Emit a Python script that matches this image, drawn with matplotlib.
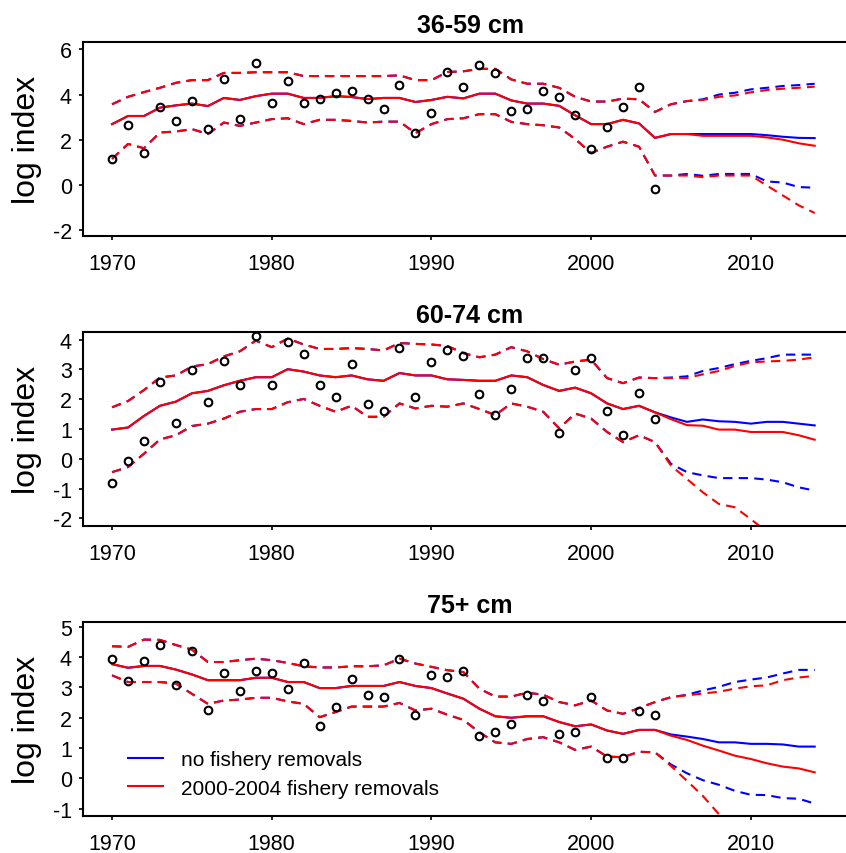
import numpy as np
import matplotlib
matplotlib.use('Agg')
import matplotlib.pyplot as plt

plt.rcParams['font.family'] = ['Liberation Sans', 'DejaVu Sans']
plt.rcParams['axes.unicode_minus'] = False

years_hist = np.arange(1970, 2005)
years_proj = np.arange(2005, 2015)
years_all = np.concatenate([years_hist, years_proj])

titles = ['36-59 cm', '60-74 cm', '75+ cm']
legend_labels = ['no fishery removals', '2000-2004 fishery removals']

# ---- 36-59 cm ----
obs_small = [1.15, 2.66, 1.41, 3.45, 2.83, 3.71, 2.47, 4.68, 2.91, 5.39,
             3.63, 4.58, 3.63, 3.79, 4.07, 4.15, 3.80, 3.36, 4.42, 2.29,
             3.19, 5.02, 4.33, 5.30, 4.95, 3.26, 3.36, 4.15, 3.88, 3.08,
             1.60, 2.55, 3.45, 4.33, -0.18]
mean_small = [2.69, 3.05, 3.05, 3.42, 3.52, 3.60, 3.49, 3.85, 3.76, 3.93,
              4.04, 4.04, 3.85, 3.85, 3.93, 3.89, 3.80, 3.85, 3.85, 3.67,
              3.76, 3.90, 3.83, 4.04, 4.04, 3.74, 3.60, 3.60, 3.50, 3.08,
              2.69, 2.69, 2.88, 2.72, 2.08]
upper_small = [3.57, 3.90, 4.11, 4.30, 4.52, 4.64, 4.64, 4.96, 4.96, 4.99,
               4.99, 4.99, 4.82, 4.82, 4.82, 4.82, 4.82, 4.82, 4.85, 4.64,
               4.64, 5.00, 5.03, 5.14, 5.14, 4.67, 4.48, 4.48, 4.30, 3.90,
               3.69, 3.69, 3.82, 3.79, 3.23]
lower_small = [1.15, 1.81, 1.62, 2.32, 2.36, 2.47, 2.25, 2.76, 2.61, 2.76,
               2.91, 2.95, 2.69, 2.88, 2.88, 2.83, 2.76, 2.80, 2.80, 2.29,
               2.69, 2.91, 2.95, 3.13, 3.13, 2.79, 2.69, 2.64, 2.54, 2.03,
               1.41, 1.69, 1.91, 1.69, 0.41]
mean_small_nofish = [2.25, 2.25, 2.25, 2.25, 2.25, 2.25, 2.20, 2.13, 2.08, 2.07]
mean_small_fish = [2.25, 2.25, 2.17, 2.17, 2.17, 2.17, 2.10, 2.00, 1.84, 1.73]
upper_small_nofish = [3.57, 3.71, 3.79, 4.00, 4.08, 4.23, 4.30, 4.38, 4.42, 4.48]
upper_small_fish = [3.57, 3.71, 3.76, 3.90, 3.96, 4.10, 4.20, 4.26, 4.30, 4.35]
lower_small_nofish = [0.41, 0.48, 0.40, 0.48, 0.48, 0.48, 0.15, 0.10, -0.10, -0.13]
lower_small_fish = [0.41, 0.41, 0.34, 0.41, 0.41, 0.41, -0.03, -0.47, -0.91, -1.25]

# ---- 60-74 cm ----
obs_mid = [-0.82, -0.08, 0.60, 2.57, 1.21, 2.97, 1.90, 3.30, 2.49, 4.12,
           2.49, 3.91, 3.52, 2.49, 2.09, 3.18, 1.83, 1.61, 3.72, 2.09,
           3.25, 3.64, 3.44, 2.17, 1.48, 2.36, 3.37, 3.37, 0.87, 2.97,
           3.37, 1.61, 0.81, 2.22, 1.35]
mean_mid = [0.98, 1.05, 1.44, 1.78, 1.92, 2.20, 2.28, 2.47, 2.62, 2.74,
            2.74, 3.01, 2.93, 2.80, 2.74, 2.80, 2.67, 2.62, 2.88, 2.80,
            2.80, 2.67, 2.65, 2.62, 2.62, 2.80, 2.74, 2.48, 2.28, 2.39,
            2.20, 1.86, 1.67, 1.78, 1.56]
upper_mid = [1.73, 1.94, 2.31, 2.73, 2.80, 3.10, 3.18, 3.44, 3.61, 3.97,
             3.75, 4.04, 3.84, 3.69, 3.69, 3.72, 3.69, 3.64, 3.89, 3.86,
             3.84, 3.79, 3.55, 3.41, 3.50, 3.75, 3.61, 3.35, 3.16, 3.27,
             3.33, 2.71, 2.54, 2.73, 2.71]
lower_mid = [-0.45, -0.28, 0.17, 0.65, 0.79, 1.10, 1.18, 1.35, 1.58, 1.67,
             1.67, 1.90, 2.01, 1.78, 1.58, 1.78, 1.41, 1.41, 1.86, 1.69,
             1.78, 1.75, 1.86, 1.67, 1.47, 1.86, 1.75, 1.58, 1.02, 1.52,
             1.35, 0.90, 0.56, 0.79, 0.56]
mean_mid_nofish = [1.39, 1.24, 1.32, 1.26, 1.24, 1.18, 1.24, 1.24, 1.18, 1.12]
mean_mid_fish = [1.33, 1.13, 1.11, 0.98, 0.98, 0.90, 0.90, 0.90, 0.79, 0.64]
upper_mid_nofish = [2.73, 2.77, 2.95, 3.05, 3.18, 3.29, 3.38, 3.50, 3.50, 3.50]
upper_mid_fish = [2.71, 2.71, 2.84, 2.95, 3.12, 3.24, 3.27, 3.29, 3.33, 3.41]
lower_mid_nofish = [-0.17, -0.45, -0.56, -0.65, -0.65, -0.65, -0.70, -0.79, -0.96, -1.07]
lower_mid_fish = [-0.23, -0.68, -1.13, -1.52, -1.63, -2.03, -2.45, np.nan, np.nan, np.nan]

# ---- 75+ cm ----
obs_large = [3.93, 3.20, 3.88, 4.40, 3.07, 4.21, 2.27, 3.47, 2.87, 3.53,
             3.47, 2.94, 3.80, 1.74, 2.34, 3.27, 2.74, 2.67, 3.93, 2.08,
             3.40, 3.33, 3.53, 1.41, 1.54, 1.81, 2.74, 2.54, 1.48, 1.54,
             2.67, 0.68, 0.68, 2.21, 2.08]
mean_large = [3.77, 3.65, 3.71, 3.71, 3.59, 3.43, 3.24, 3.24, 3.24, 3.32,
              3.32, 3.18, 3.18, 2.98, 2.98, 3.05, 3.05, 3.05, 3.18, 3.05,
              2.98, 2.80, 2.63, 2.30, 2.05, 2.00, 2.05, 2.05, 1.86, 1.72,
              1.78, 1.58, 1.47, 1.60, 1.60]
upper_large = [4.36, 4.34, 4.58, 4.57, 4.40, 4.25, 3.84, 3.84, 3.90, 3.95,
               3.90, 3.81, 3.70, 3.66, 3.66, 3.70, 3.70, 3.73, 3.95, 3.79,
               3.68, 3.57, 3.51, 2.96, 2.70, 2.70, 2.83, 2.76, 2.52, 2.41,
               2.57, 2.24, 2.13, 2.32, 2.52]
lower_large = [3.40, 3.18, 3.18, 3.18, 3.13, 2.79, 2.46, 2.57, 2.60, 2.66,
               2.66, 2.54, 2.46, 2.02, 2.19, 2.37, 2.37, 2.37, 2.49, 2.24,
               2.30, 2.10, 1.93, 1.52, 1.19, 1.14, 1.30, 1.36, 1.19, 0.94,
               1.05, 0.72, 0.70, 0.88, 0.86]
mean_large_nofish = [1.45, 1.38, 1.30, 1.19, 1.19, 1.14, 1.14, 1.12, 1.05, 1.05]
mean_large_fish = [1.41, 1.27, 1.08, 0.92, 0.75, 0.64, 0.50, 0.39, 0.33, 0.20]
upper_large_nofish = [2.68, 2.76, 2.90, 3.02, 3.18, 3.26, 3.33, 3.46, 3.58, 3.58]
upper_large_fish = [2.68, 2.74, 2.80, 2.86, 2.96, 3.04, 3.07, 3.24, 3.33, 3.38]
lower_large_nofish = [0.46, 0.17, -0.06, -0.21, -0.41, -0.54, -0.55, -0.65, -0.67, -0.83]
lower_large_fish = [0.41, -0.08, -0.58, -1.18, -1.80, np.nan, np.nan, np.nan, np.nan, np.nan]

panels = [
    (obs_small, mean_small, upper_small, lower_small,
     mean_small_nofish, mean_small_fish, upper_small_nofish, upper_small_fish,
     lower_small_nofish, lower_small_fish),
    (obs_mid, mean_mid, upper_mid, lower_mid,
     mean_mid_nofish, mean_mid_fish, upper_mid_nofish, upper_mid_fish,
     lower_mid_nofish, lower_mid_fish),
    (obs_large, mean_large, upper_large, lower_large,
     mean_large_nofish, mean_large_fish, upper_large_nofish, upper_large_fish,
     lower_large_nofish, lower_large_fish),
]
ylims = [(-2.27, 6.33), (-2.26, 4.26), (-1.24, 5.16)]
yticks = [np.arange(-2, 7, 2), np.arange(-2, 5, 1), np.arange(-1, 6, 1)]
tops = [43, 333, 623]

W, H = 846, 854
fig = plt.figure(figsize=(W / 100, H / 100), dpi=100)

dash = (4.5, 3)
lw = 1.5

for i, p in enumerate(panels):
    obs, mean, upper, lower, m_nf, m_f, u_nf, u_f, l_nf, l_f = p
    ax = fig.add_axes([83 / W, 1 - (tops[i] + 194) / H, 774 / W, 194 / H])

    # blue first, red on top (they share the fitted period)
    ax.plot(years_all, np.concatenate([mean, m_nf]), color='blue', lw=lw)
    ax.plot(years_all, np.concatenate([upper, u_nf]), color='blue', lw=lw, dashes=dash)
    ax.plot(years_all, np.concatenate([lower, l_nf]), color='blue', lw=lw, dashes=dash)
    ax.plot(years_all, np.concatenate([mean, m_f]), color='red', lw=lw)
    ax.plot(years_all, np.concatenate([upper, u_f]), color='red', lw=lw, dashes=dash)
    ax.plot(years_all, np.concatenate([lower, l_f]), color='red', lw=lw, dashes=dash)
    ax.plot(years_hist, obs, 'o', mfc='none', mec='black', ms=5.5, mew=1.5)

    ax.set_xlim(1968.18, 2016.65)
    ax.set_ylim(*ylims[i])
    ax.set_xticks(np.arange(1970, 2011, 10))
    ax.set_yticks(yticks[i])
    for s in ['left', 'bottom', 'top']:
        ax.spines[s].set_linewidth(1.5)
    ax.spines['right'].set_visible(False)
    ax.tick_params(axis='x', direction='out', length=3, width=1.2, pad=9, labelsize=15.5)
    ax.tick_params(axis='y', direction='out', length=3, width=1.2, pad=5, labelsize=15.5)
    ax.set_title(titles[i], fontsize=18, fontweight='bold', pad=7)
    ax.set_ylabel('log index', fontsize=23)
    ax.yaxis.set_label_coords(-0.053, 0.5)

    if i == 2:
        h1, = ax.plot([], [], color='blue', lw=lw)
        h2, = ax.plot([], [], color='red', lw=lw)
        ax.legend([h1, h2], legend_labels, loc='lower left',
                  bbox_to_anchor=(0.058, 0.095), frameon=False, fontsize=15,
                  borderpad=0, borderaxespad=0, handlelength=1.68,
                  handletextpad=0.87, labelspacing=0.45)

fig.savefig('out.png', dpi=100)
